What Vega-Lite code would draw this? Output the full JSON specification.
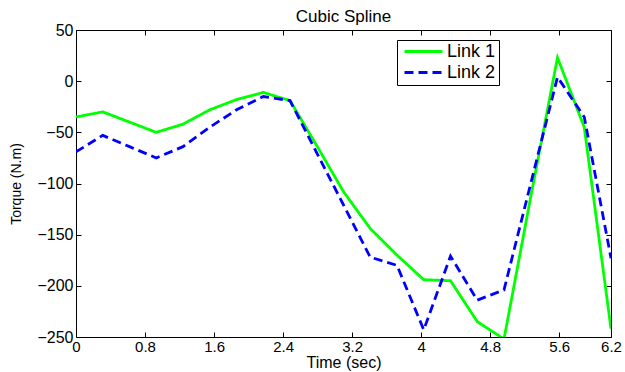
{
  "$schema": "https://vega.github.io/schema/vega-lite/v6.json",
  "width": 535,
  "height": 307,
  "autosize": {"type": "none"},
  "padding": {"left": 76, "top": 30, "right": 14, "bottom": 35},
  "background": "white",
  "config": {
    "view": {"stroke": "black", "strokeWidth": 1},
    "font": "Liberation Sans",
    "axis": {"labelFont": "Liberation Sans", "titleFont": "Liberation Sans", "labelColor": "black", "titleColor": "black", "tickColor": "black", "domainColor": "black", "grid": false}
  },
  "title": {"text": "Cubic Spline", "fontSize": 17, "fontWeight": "normal", "font": "Liberation Sans", "color": "black", "offset": -4},
  "data": {
    "values": [
      {"t": 0, "torque": -35, "series": "Link 1"},
      {"t": 0.31, "torque": -30, "series": "Link 1"},
      {"t": 0.62, "torque": -40, "series": "Link 1"},
      {"t": 0.93, "torque": -50, "series": "Link 1"},
      {"t": 1.24, "torque": -42, "series": "Link 1"},
      {"t": 1.55, "torque": -28, "series": "Link 1"},
      {"t": 1.86, "torque": -18, "series": "Link 1"},
      {"t": 2.17, "torque": -11, "series": "Link 1"},
      {"t": 2.48, "torque": -19, "series": "Link 1"},
      {"t": 2.79, "torque": -63, "series": "Link 1"},
      {"t": 3.10, "torque": -108, "series": "Link 1"},
      {"t": 3.41, "torque": -144, "series": "Link 1"},
      {"t": 3.72, "torque": -170, "series": "Link 1"},
      {"t": 4.03, "torque": -194, "series": "Link 1"},
      {"t": 4.34, "torque": -195, "series": "Link 1"},
      {"t": 4.65, "torque": -235, "series": "Link 1"},
      {"t": 4.96, "torque": -252, "series": "Link 1"},
      {"t": 5.27, "torque": -113, "series": "Link 1"},
      {"t": 5.58, "torque": 23, "series": "Link 1"},
      {"t": 5.89, "torque": -45, "series": "Link 1"},
      {"t": 6.2, "torque": -242, "series": "Link 1"},
      {"t": 0, "torque": -69, "series": "Link 2"},
      {"t": 0.31, "torque": -53, "series": "Link 2"},
      {"t": 0.62, "torque": -64, "series": "Link 2"},
      {"t": 0.93, "torque": -75, "series": "Link 2"},
      {"t": 1.24, "torque": -64, "series": "Link 2"},
      {"t": 1.55, "torque": -45, "series": "Link 2"},
      {"t": 1.86, "torque": -28, "series": "Link 2"},
      {"t": 2.17, "torque": -15, "series": "Link 2"},
      {"t": 2.48, "torque": -19, "series": "Link 2"},
      {"t": 2.79, "torque": -70, "series": "Link 2"},
      {"t": 3.10, "torque": -121, "series": "Link 2"},
      {"t": 3.41, "torque": -172, "series": "Link 2"},
      {"t": 3.72, "torque": -180, "series": "Link 2"},
      {"t": 4.03, "torque": -243, "series": "Link 2"},
      {"t": 4.34, "torque": -171, "series": "Link 2"},
      {"t": 4.65, "torque": -214, "series": "Link 2"},
      {"t": 4.96, "torque": -204, "series": "Link 2"},
      {"t": 5.27, "torque": -100, "series": "Link 2"},
      {"t": 5.58, "torque": 4, "series": "Link 2"},
      {"t": 5.89, "torque": -35, "series": "Link 2"},
      {"t": 6.2, "torque": -173, "series": "Link 2"}
    ]
  },
  "layer": [
    {
      "mark": {"type": "line", "strokeWidth": 2.8, "clip": true},
      "encoding": {
        "x": {
          "field": "t", "type": "quantitative",
          "scale": {"domain": [0, 6.2], "nice": false, "zero": false},
          "axis": {"orient": "bottom", "values": [0, 0.8, 1.6, 2.4, 3.2, 4, 4.8, 5.6, 6.2], "format": "~g", "tickSize": -5, "labelPadding": 7, "labelFontSize": 15, "labelFlush": false, "domain": false, "title": "Time (sec)", "titleFontSize": 16, "titleFontWeight": "normal", "titlePadding": 0}
        },
        "y": {
          "field": "torque", "type": "quantitative",
          "scale": {"domain": [-250, 50], "nice": false, "zero": false},
          "axis": {"orient": "left", "values": [-250, -200, -150, -100, -50, 0, 50], "tickSize": -5, "labelPadding": 8, "labelFontSize": 16, "labelFlush": false, "domain": false, "title": "Torque (N.m)", "titleFontSize": 14, "titleFontWeight": "normal", "titlePadding": 13}
        },
        "color": {
          "field": "series", "type": "nominal",
          "scale": {"domain": ["Link 1", "Link 2"], "range": ["#00ff00", "#0000ff"]},
          "legend": {"title": null, "orient": "none", "legendX": 321, "legendY": 10, "strokeColor": "black", "fillColor": "white", "padding": 3, "symbolType": "stroke", "symbolSize": 1444, "symbolStrokeWidth": 2.8, "symbolOffset": 3, "clipHeight": 17, "labelFontSize": 18, "labelFont": "Liberation Sans", "labelColor": "black", "rowPadding": 2, "labelOffset": 3}
        },
        "strokeDash": {
          "field": "series", "type": "nominal",
          "scale": {"domain": ["Link 1", "Link 2"], "range": [[1, 0], [9, 5]]},
          "legend": {"title": null, "orient": "none", "legendX": 321, "legendY": 10, "strokeColor": "black", "fillColor": "white", "padding": 3, "symbolType": "stroke", "symbolSize": 1444, "symbolStrokeWidth": 2.8, "symbolOffset": 3, "clipHeight": 17, "labelFontSize": 18, "labelFont": "Liberation Sans", "labelColor": "black", "rowPadding": 2, "labelOffset": 3}
        }
      }
    },
    {
      "mark": {"type": "point", "opacity": 0},
      "encoding": {
        "x": {
          "field": "t", "type": "quantitative",
          "axis": {"orient": "top", "values": [0, 0.8, 1.6, 2.4, 3.2, 4, 4.8, 5.6, 6.2], "tickSize": -5, "labels": false, "domain": false, "title": null}
        },
        "y": {
          "field": "torque", "type": "quantitative",
          "axis": {"orient": "right", "values": [-250, -200, -150, -100, -50, 0, 50], "tickSize": -5, "labels": false, "domain": false, "title": null}
        }
      }
    }
  ],
  "resolve": {"axis": {"x": "independent", "y": "independent"}}
}
